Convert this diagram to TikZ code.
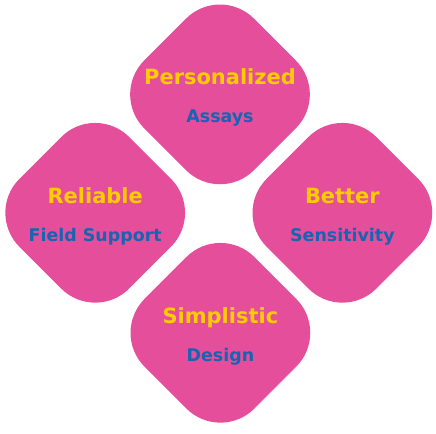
\documentclass[tikz,border=0pt]{standalone}
\usepackage{fontspec}
\setmainfont{DejaVu Sans}
\usetikzlibrary{positioning}
\definecolor{petalpink}{RGB}{229,78,155}
\definecolor{headyellow}{RGB}{255,204,0}
\definecolor{subblue}{RGB}{22,100,178}
\tikzset{
    petal/.style={fill=petalpink, rotate=45, minimum size=3.88cm, rounded corners=1.2cm, inner sep=0},
    headline/.style={anchor=base, text=headyellow, font=\fontsize{14.9}{16}\selectfont\bfseries},
    subline/.style={anchor=base, text=subblue, font=\fontsize{12.4}{14}\selectfont\bfseries},
}

\begin{document}
\begin{tikzpicture}
		\useasboundingbox (0,0) rectangle (10.9,10.85);
		% the four petals
		\node[petal] (assays) at (5.5,8.49) {};
		\node[petal] (support) at (2.38,5.53) {};
		\node[petal] (sensitivity) at (8.56,5.53) {};
		\node[petal] (design) at (5.51,2.53) {};
		% texts
		\node[headline] (assaysT) at ([yshift=2.4mm]assays.center) {Personalized};
		\node[subline] (assaysS) at ([yshift=-7.1mm]assays.center) {Assays};
		\node[headline] (supportT) at ([yshift=2.4mm]support.center) {Reliable};
		\node[subline] (supportS) at ([yshift=-7.1mm]support.center) {Field Support};
		\node[headline] (sensitivityT) at ([yshift=2.4mm]sensitivity.center) {Better};
		\node[subline] (sensitivityS) at ([yshift=-7.1mm]sensitivity.center) {Sensitivity};
		\node[headline] (designT) at ([yshift=2.4mm]design.center) {Simplistic};
		\node[subline] (designS) at ([yshift=-7.1mm]design.center) {Design};
	\end{tikzpicture}
\end{document}
